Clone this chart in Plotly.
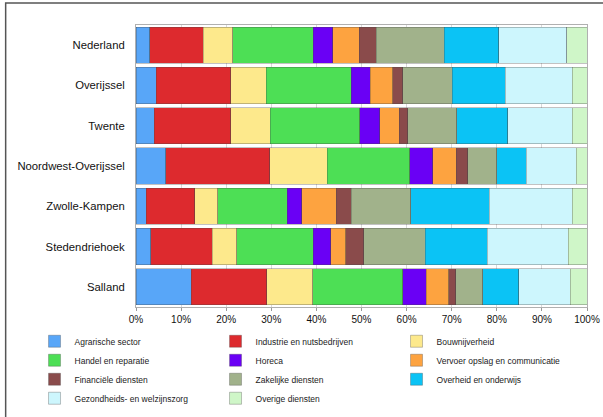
import plotly.graph_objects as go

regions = ["Nederland", "Overijssel", "Twente", "Noordwest-Overijssel",
           "Zwolle-Kampen", "Stedendriehoek", "Salland"]

sectors = ["Agrarische sector", "Industrie en nutsbedrijven", "Bouwnijverheid",
           "Handel en reparatie", "Horeca", "Vervoer opslag en communicatie",
           "Financiële diensten", "Zakelijke diensten", "Overheid en onderwijs",
           "Gezondheids- en welzijnszorg", "Overige diensten"]

colors = ["#58a6f8", "#dd2a2e", "#fde98c", "#4ddf55", "#6a00f5", "#fda340",
          "#8a4b4b", "#a1b28b", "#0bc3f5", "#cdf6fd", "#cff6c8"]

# shares (%) per region, in sector order
nederland = [3.1, 11.8, 6.5, 17.9, 4.3, 5.9, 3.7, 15.1, 12.0, 15.1, 4.5]
overijssel = [4.5, 16.5, 7.9, 18.9, 4.2, 5.0, 2.2, 11.0, 11.8, 14.8, 3.3]
twente = [4.1, 16.9, 8.8, 19.8, 4.4, 4.4, 1.8, 10.9, 11.3, 14.3, 3.3]
noordwest = [6.6, 23.1, 12.7, 18.3, 5.1, 5.2, 2.6, 6.4, 6.5, 11.1, 2.4]
zwolle = [2.3, 10.7, 5.1, 15.4, 3.2, 7.7, 3.3, 13.2, 17.4, 18.4, 3.3]
stedendriehoek = [3.3, 13.6, 5.5, 16.9, 3.9, 3.4, 3.9, 13.7, 13.8, 17.9, 4.2]
salland = [12.2, 16.8, 10.2, 19.9, 5.3, 4.9, 1.6, 6.0, 8.0, 11.4, 3.7]

rows = [nederland, overijssel, twente, noordwest, zwolle, stedendriehoek, salland]

tick_vals = [0, 10, 20, 30, 40, 50, 60, 70, 80, 90, 100]
tick_text = ["0%", "10%", "20%", "30%", "40%", "50%", "60%", "70%", "80%", "90%", "100%"]

fig = go.Figure()
for i, s in enumerate(sectors):
    vals = [r[i] for r in rows]
    tot = [sum(r) for r in rows]
    fig.add_trace(go.Bar(
        y=regions, x=[100 * v / t for v, t in zip(vals, tot)], name=s,
        orientation="h",
        marker=dict(color=colors[i], line=dict(color="rgba(70,70,70,0.55)", width=0.6)),
    ))

fig.update_layout(
    barmode="stack",
    bargap=0.1,
    width=603, height=417,
    margin=dict(l=136, r=16, t=25, b=110, autoexpand=False),
    paper_bgcolor="white",
    plot_bgcolor="white",
    font=dict(family="Liberation Sans, Arial, sans-serif", color="#111"),
    showlegend=True,
    legend=dict(
        orientation="h", x=-0.225, xanchor="left", y=-0.07, yanchor="top",
        entrywidth=136, entrywidthmode="pixels",
        font=dict(size=8.5, color="#222"),
        itemwidth=30, traceorder="normal",
        bgcolor="rgba(0,0,0,0)",
    ),
    xaxis=dict(
        range=[0, 100], tickvals=tick_vals, ticktext=tick_text,
        showgrid=True, gridcolor="#d8d8d8", gridwidth=1,
        showline=True, linecolor="#b0b0b0", mirror=True,
        ticks="outside", ticklen=3, tickcolor="#999",
        tickfont=dict(size=10, color="#111"),
        zeroline=False, fixedrange=True,
    ),
    yaxis=dict(
        categoryorder="array", categoryarray=regions, autorange="reversed",
        showline=True, linecolor="#b0b0b0", mirror=True,
        tickfont=dict(size=11.3, color="#111"),
        ticklabelstandoff=8, fixedrange=True,
    ),
    shapes=[dict(type="rect", xref="paper", yref="paper",
                 x0=-0.289, x1=1.06, y0=-0.45, y1=1.078,
                 line=dict(color="#555", width=1.5), fillcolor="rgba(0,0,0,0)",
                 layer="above")],
)

fig.write_html("out.html", config={"displayModeBar": False},
               post_script="document.body.style.margin='0';")
